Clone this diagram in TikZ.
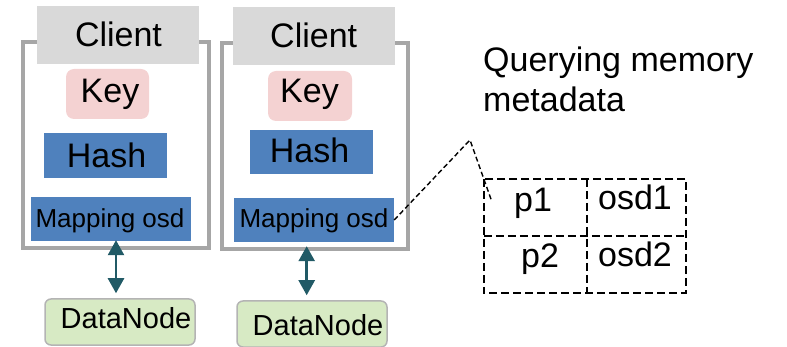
\documentclass[tikz,border=0pt]{standalone}
\usepackage{fontspec}
\setmainfont{Liberation Sans}
\usetikzlibrary{arrows.meta}
\definecolor{clientgray}{HTML}{D9D9D9}
\definecolor{framegray}{HTML}{A6A6A6}
\definecolor{keypink}{HTML}{F4D2D2}
\definecolor{hashblue}{HTML}{4F81BD}
\definecolor{nodegreen}{HTML}{D7EAC4}
\definecolor{nodeedge}{HTML}{B4B4B4}
\definecolor{linkteal}{HTML}{215A66}
\begin{document}
\begin{tikzpicture}[x=1pt,y=-1pt,
  blk/.style 2 args={rectangle,inner sep=0pt,minimum width=#1,minimum height=#2},
  frame/.style={draw=framegray,line width=3.5pt},
  clientbox/.style={fill=clientgray},
  keybox/.style={fill=keypink,rounded corners=8pt},
  bluebox/.style={fill=hashblue},
  databox/.style={fill=nodegreen,draw=nodeedge,line width=1.5pt,rounded corners=6pt},
  txt/.style={anchor=base,inner sep=0pt,font=\fontsize{34}{40}\selectfont},
  smalltxt/.style={anchor=base,inner sep=0pt,font=\fontsize{26}{30}\selectfont},
  dntxt/.style={anchor=base,inner sep=0pt,font=\fontsize{29}{34}\selectfont},
  link/.style={linkteal,line width=2.5pt,{Triangle[width=16pt,length=15pt]}-{Triangle[width=16pt,length=15pt]}},
  callout/.style={black,line width=1.4pt,dash pattern=on 5pt off 3pt},
  tabline/.style={black,line width=1.5pt,dash pattern=on 8pt off 4pt},
  cell/.style={rectangle,inner sep=0pt,minimum width=#1,minimum height=57}]
\useasboundingbox (0,0) rectangle (787,347);

% ---------- left client ----------
\node[blk={186}{206},frame] (frameL) at (115.9,145) {};
\node[blk={162}{58},clientbox] (clientL) at (118,35) {};
\node[blk={83}{50},keybox] (keyL) at (107.5,94) {};
\node[blk={123}{45},bluebox] (hashL) at (105.5,155.5) {};
\node[blk={160}{44},bluebox] (mapL) at (111,219) {};
\node[blk={150}{46},databox] (dnL) at (120,322) {};
\node[txt] (tClientL) at (118.5,47) {Client};
\node[txt] (tKeyL) at (110,103) {Key};
\node[txt] (tHashL) at (106.5,168) {Hash};
\node[smalltxt] (tMapL) at (110,228) {Mapping osd};
\node[dntxt] (tDnL) at (126,328) {DataNode};
\draw[link] ([xshift=5pt,yshift=1pt]mapL.south) -- ([xshift=-4pt,yshift=5pt]dnL.north);

% ---------- right client ----------
\node[blk={186}{206},frame] (frameR) at (314.9,146) {};
\node[blk={162}{58},clientbox] (clientR) at (313.9,36) {};
\node[blk={84}{50},keybox] (keyR) at (310,96) {};
\node[blk={123}{44},bluebox] (hashR) at (311.5,152) {};
\node[blk={160}{44},bluebox] (mapR) at (314,220) {};
\node[blk={150}{46},databox] (dnR) at (312,324) {};
\node[txt] (tClientR) at (313.7,48) {Client};
\node[txt] (tKeyR) at (309.5,103) {Key};
\node[txt] (tHashR) at (309.5,163) {Hash};
\node[smalltxt] (tMapR) at (314,228) {Mapping osd};
\node[dntxt] (tDnR) at (318,335) {DataNode};
\draw[link] ([xshift=-7.3pt,yshift=-4pt]mapR.south) -- ([xshift=-5.3pt,yshift=5pt]dnR.north);

% ---------- memory metadata table ----------
\node[txt,anchor=base west] (qLine1) at (483,71.7) {Querying memory};
\node[txt,anchor=base west] (qLine2) at (483,111.7) {metadata};
\node[cell=103] (c11) at (535.5,207.5) {};
\node[cell=99] (c12) at (636.5,207.5) {};
\node[cell=103] (c21) at (535.5,264.5) {};
\node[cell=99] (c22) at (636.5,264.5) {};
\draw[tabline] (c11.north west) rectangle (c22.south east);
\draw[tabline] (c11.north east) -- (c21.south east);
\draw[tabline] (c11.south west) -- (c12.south east);
\node[txt] (tP1) at (533,212) {p1};
\node[txt] (tOsd1) at (635,210) {osd1};
\node[txt] (tP2) at (540,268) {p2};
\node[txt] (tOsd2) at (635,267) {osd2};

% ---------- callout from the mapping step ----------
\coordinate (bend) at (470,140);
\coordinate (tip) at (492,202);
\draw[callout] (mapR.east) -- (bend) -- (tip);
\end{tikzpicture}
\end{document}
